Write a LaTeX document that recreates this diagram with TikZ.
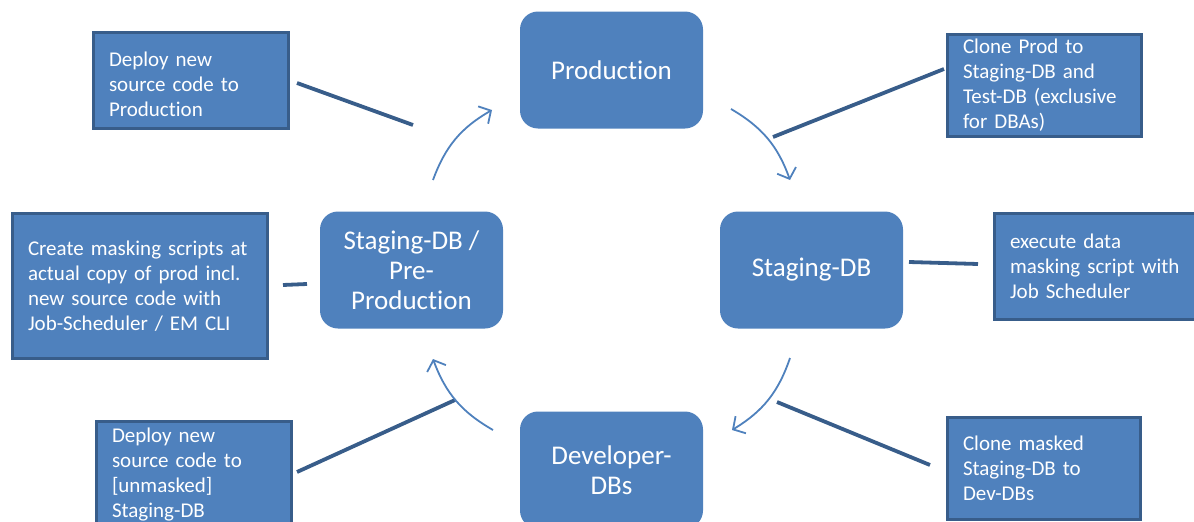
\documentclass[tikz,border=0pt]{standalone}
\usepackage{fontspec}
\setmainfont{Carlito}[Ligatures=NoCommon]
\usetikzlibrary{arrows.meta}
\definecolor{mainblue}{HTML}{4F81BD}
\definecolor{darkblue}{HTML}{385D8A}
\begin{document}
\begin{tikzpicture}[x=1pt,y=-1pt,
  mainnode/.style={fill=mainblue, rounded corners=18pt, minimum width=183pt, minimum height=117pt, text=white, font=\fontsize{27}{30}\selectfont, align=center, inner sep=0pt},
  notebox/.style={fill=mainblue, draw=darkblue, line width=3pt, text=white, font=\fontsize{21}{25}\selectfont, align=left, inner xsep=15.5pt, inner ysep=0pt, anchor=north west},
  link/.style={draw=darkblue, line width=3.8pt},
  flow/.style={draw=mainblue, line width=1.8pt, -{Straight Barb[length=9pt, width=20pt, line width=1.8pt]}, bend left=20}]
\useasboundingbox (0,0) rectangle (1194,522);
% main nodes
\node[mainnode] (prod) at (611.5,70) {Production};
\node[mainnode] (stage) at (811.5,270) {Staging-DB};
\node[mainnode] (pre) at (411.5,270) {Staging-DB /\\Pre-\\Production};
\node[mainnode] (dev) at (611.5,470) {Developer-\\DBs};
% note boxes
\node[notebox, text width=164pt, minimum height=96pt] (n1) at (92,31) {\rule{0pt}{23pt}Deploy new\\source code to\\Production};
\node[notebox, text width=163pt, minimum height=102pt] (n2) at (946,33) {Clone Prod to\\Staging-DB and\\Test-DB (exclusive\\for DBAs)};
\node[notebox, text width=224pt, minimum height=145pt] (n3) at (11,212) {Create masking scripts at\\actual copy of prod incl.\\new source code with\\Job-Scheduler / EM CLI};
\node[notebox, text width=184pt, minimum height=106pt] (n4) at (993,212) {execute data\\masking script with\\Job Scheduler};
\node[notebox, text width=164pt, minimum height=106pt] (n5) at (95,420) {Deploy new\\source code to\\{}[unmasked]\\Staging-DB};
\node[notebox, text width=162pt, minimum height=102pt] (n6) at (946,416) {Clone masked\\Staging-DB to\\Dev-DBs};
% connector ends
\coordinate (l1a) at (297,83);  \coordinate (l1b) at (413,125);
\coordinate (l2a) at (773,137); \coordinate (l2b) at (944,69);
\coordinate (l3a) at (283,285); \coordinate (l3b) at (307,284);
\coordinate (l4a) at (909,262); \coordinate (l4b) at (978,264);
\coordinate (l5a) at (297,472); \coordinate (l5b) at (455,400);
\coordinate (l6a) at (777,402); \coordinate (l6b) at (930,465);
\draw[link] (l1a) -- (l1b);
\draw[link] (l2a) -- (l2b);
\draw[link] (l3a) -- (l3b);
\draw[link] (l4a) -- (l4b);
\draw[link] (l5a) -- (l5b);
\draw[link] (l6a) -- (l6b);
% cycle arrows
\coordinate (a1s) at (433,180); \coordinate (a1e) at (492,110);
\coordinate (a2s) at (731,109); \coordinate (a2e) at (790,180);
\coordinate (a3s) at (790,358); \coordinate (a3e) at (732,430);
\coordinate (a4s) at (493,430); \coordinate (a4e) at (433,359);
\draw[flow] (a1s) to (a1e);
\draw[flow] (a2s) to (a2e);
\draw[flow] (a3s) to (a3e);
\draw[flow] (a4s) to (a4e);
\end{tikzpicture}
\end{document}
